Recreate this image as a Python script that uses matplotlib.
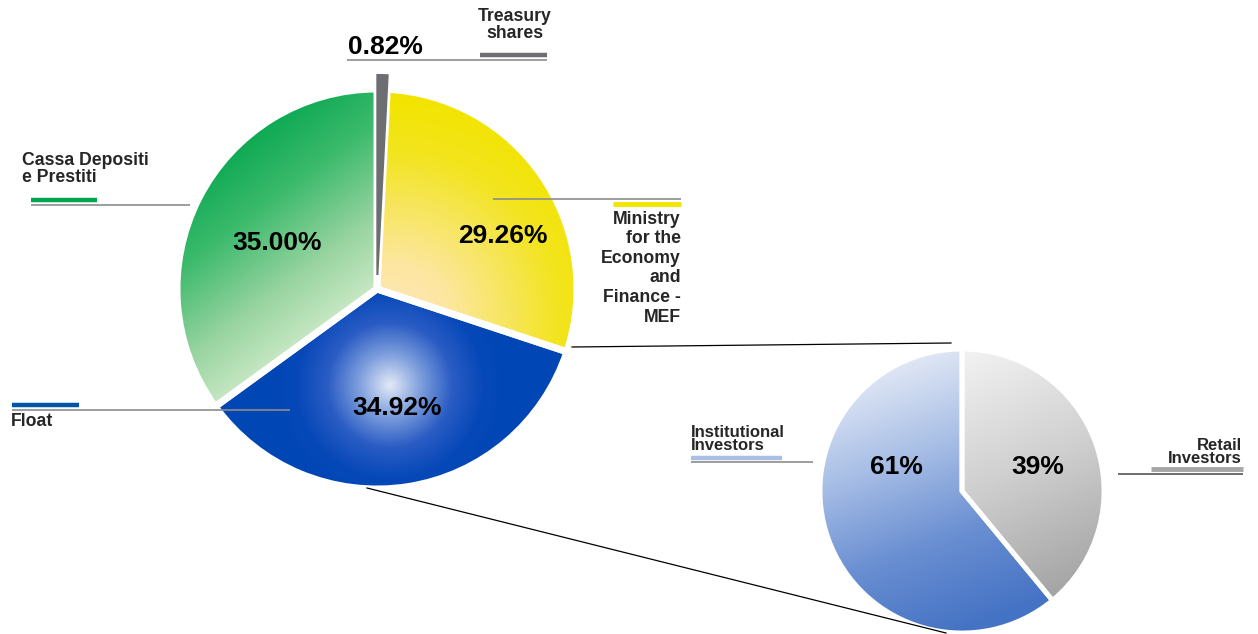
import numpy as np
import matplotlib.pyplot as plt
from matplotlib.colors import LinearSegmentedColormap

# Shareholding structure (main pie) and breakdown of the float (small pie)
main_labels = ["Treasury\nshares", "Ministry\nfor the\nEconomy\nand\nFinance -\nMEF",
               "Float", "Cassa Depositi\ne Prestiti"]
main_values = [0.82, 29.26, 34.92, 35.00]
float_labels = ["Institutional\nInvestors", "Retail\nInvestors"]
float_values = [61, 39]

W, H = 1258, 634
plt.rcParams['font.family'] = ['Liberation Sans', 'DejaVu Sans']

fig = plt.figure(figsize=(W / 100, H / 100), dpi=100)
ax = fig.add_axes([0, 0, 1, 1])


def Y(p):
    # picture rows run downwards, data y runs upwards
    return H - p


# pixel grid used for the gradient fills
gx, gy = np.meshgrid(np.arange(W) + 0.5, np.arange(H) + 0.5)


def fill_gradient(wedge, t, colors):
    cmap = LinearSegmentedColormap.from_list("g", colors)
    im = ax.imshow(cmap(np.clip(t, 0, 1)), extent=(0, W, 0, H), origin="upper",
                   interpolation="bilinear", zorder=1)
    im.set_clip_path(wedge)
    wedge.set_facecolor("none")
    wedge.set_zorder(2)


def linear(x0, y0, dx, dy, length):
    n = np.hypot(dx, dy)
    return ((gx - x0) * dx / n + (gy - y0) * dy / n) / length


def radial(x0, y0, r):
    return np.hypot(gx - x0, gy - y0) / r


# ---- main pie
big_cx, big_cy, big_r = 377, 289, 200
# pie offsets exploded wedges in data units, so scale by the radius
wedges, _ = ax.pie(main_values, center=(big_cx, Y(big_cy)), radius=big_r,
                   startangle=90, counterclock=False,
                   explode=[0.07 * big_r, 0, 0, 0],
                   frame=True, wedgeprops=dict(edgecolor="white", linewidth=5))
wedges[0].set_facecolor("#6d6e71")
wedges[0].set_edgecolor("#6d6e71")
wedges[0].set_linewidth(1.5)
wedges[0].set_zorder(3)
fill_gradient(wedges[1], radial(395, 318, 220),
              ["#ffe6b8", "#fde7a0", "#f7e660", "#f3e41e", "#f2e400"])
fill_gradient(wedges[2], radial(390, 385, 125),
              ["#e2e9f7", "#7d9edc", "#2a5cc4", "#0648b8", "#0046b5"])
fill_gradient(wedges[3], linear(290, 90, 0.6, 0.8, 230),
              ["#04a64e", "#3cba6c", "#98d4a0", "#d8efd0"])

# ---- small pie
sm_cx, sm_cy, sm_r = 962, 491, 142
swedges, _ = ax.pie(float_values, center=(sm_cx, Y(sm_cy)), radius=sm_r,
                    startangle=90, counterclock=True, frame=True,
                    wedgeprops=dict(edgecolor="white", linewidth=3.5))
fill_gradient(swedges[0], linear(890, 360, 0.35, 0.94, 280),
              ["#e4eaf6", "#a9bfe6", "#6a8fd2", "#4472c4"])
fill_gradient(swedges[1], linear(970, 350, 0.4, 0.92, 260),
              ["#f2f2f2", "#cfcfcf", "#a4a4a4"])

# connector lines between the float slice and the small pie
ax.plot([572, 951], [Y(347), Y(343)], color="black", lw=0.9, zorder=3)
ax.plot([367, 946], [Y(488), Y(633)], color="black", lw=0.9, zorder=3)

# ---- percentages
pct_style = dict(fontsize=19, fontweight="bold", color="black", ha="center",
                 va="center", zorder=5)
ax.text(385, Y(47), f"{main_values[0]:.2f}%", **pct_style)
ax.text(503, Y(236), f"{main_values[1]:.2f}%", **pct_style)
ax.text(397, Y(408), f"{main_values[2]:.2f}%", **pct_style)
ax.text(277, Y(243), f"{main_values[3]:.2f}%", **pct_style)
ax.text(896, Y(467), f"{float_values[0]}%", **pct_style)
ax.text(1038, Y(467), f"{float_values[1]}%", **pct_style)

# ---- category labels with marker bars and leader lines
lab = dict(fontsize=12.7, fontweight="bold", color="#262626", va="center", zorder=5)
ax.text(515, Y(25), main_labels[0], ha="center", linespacing=1.0, **lab)
ax.text(681, Y(268), main_labels[1], ha="right", linespacing=1.2, **lab)
ax.text(11, Y(422), main_labels[2], ha="left", **lab)
ax.text(22, Y(169), main_labels[3], ha="left", linespacing=1.05, **lab)
lab["fontsize"] = 12
ax.text(691, Y(439), float_labels[0], ha="left", linespacing=0.9, **lab)
ax.text(1242, Y(452), float_labels[1], ha="right", linespacing=0.9, **lab)

grey = "#8c8c8c"
seg = dict(solid_capstyle="butt", zorder=4)
# treasury
ax.plot([480, 547], [Y(55), Y(55)], color="#6d6e71", lw=3.2, **seg)
ax.plot([347, 547], [Y(60), Y(60)], color=grey, lw=1.2, **seg)
# cassa
ax.plot([31, 97], [Y(200), Y(200)], color="#00a650", lw=3.2, **seg)
ax.plot([31, 190], [Y(205), Y(205)], color=grey, lw=1.2, **seg)
# ministry
ax.plot([493, 681], [Y(199), Y(199)], color=grey, lw=1.2, **seg)
ax.plot([613, 681], [Y(204), Y(204)], color="#f2e500", lw=3.5, **seg)
# float
ax.plot([12, 79], [Y(405), Y(405)], color="#0055a5", lw=3.2, **seg)
ax.plot([12, 290], [Y(410), Y(410)], color=grey, lw=1.2, **seg)
# institutional / retail
ax.plot([691, 782], [Y(458), Y(458)], color="#a9bfe3", lw=3.2, **seg)
ax.plot([691, 813], [Y(462), Y(462)], color=grey, lw=1.2, **seg)
ax.plot([1151, 1243], [Y(469), Y(469)], color="#a6a6a6", lw=3.5, **seg)
ax.plot([1118, 1243], [Y(474), Y(474)], color="#555555", lw=1.2, **seg)

ax.set_xlim(0, W)
ax.set_ylim(0, H)
ax.set_aspect("equal")
ax.axis("off")
fig.savefig("out.png", dpi=100, facecolor="white")
